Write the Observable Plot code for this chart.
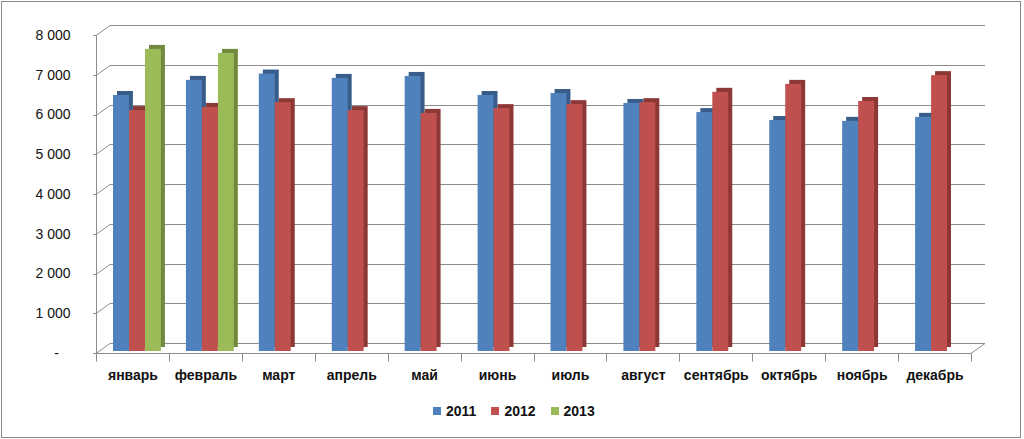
<!DOCTYPE html>
<html>
<head>
<meta charset="utf-8">
<script src="https://cdn.jsdelivr.net/npm/d3@7"></script>
<script src="https://cdn.jsdelivr.net/npm/@observablehq/plot@0.6"></script>
<style>
  html, body { margin: 0; padding: 0; background: #fff; }
  body { width: 1024px; height: 439px; position: relative; overflow: hidden; font-family: "Liberation Sans", Arial, sans-serif; }
  #border { position: absolute; left: 1px; top: 1px; width: 1020px; height: 437px; box-sizing: border-box; border: 1px solid #8a8a8a; }
  #chart { position: absolute; left: 0; top: 0; }
  #legend { position: absolute; left: 433px; top: 403px; display: flex; align-items: center; font-weight: bold; font-size: 14px; color: #111; }
  #legend .item { display: flex; align-items: center; margin-right: 15px; }
  #legend .sw { width: 8px; height: 8px; margin-right: 5px; }
</style>
</head>
<body>
<div id="border"></div>
<div id="chart"></div>
<div id="legend"></div>
<script>
const months = ["январь","февраль","март","апрель","май","июнь","июль","август","сентябрь","октябрь","ноябрь","декабрь"];
const series = ["2011","2012","2013"];
const values2011 = [6440, 6820, 6980, 6870, 6920, 6440, 6490, 6240, 6010, 5810, 5790, 5890];
const values2012 = [6060, 6140, 6260, 6060, 5990, 6110, 6210, 6260, 6520, 6720, 6290, 6940];
const values2013 = [7600, 7500];
const yTicks = [0, 1000, 2000, 3000, 4000, 5000, 6000, 7000, 8000];
const colors = ["#4F81BD", "#C0504D", "#9BBB59"];
const darkColors = ["#385D8A", "#8C3836", "#71893F"];

const rows = (vals) => vals.map((v, i) => ({month: months[i], value: v}));
const data = [rows(values2011), rows(values2012), rows(values2013)];

// bar placement inside each month band (pixels)
const insets = [[17, 40], [33, 24], [49, 8]];
const DEPTH_X = 14, DEPTH_Y = -10;   // 3D depth of the walls
const BAR_DX = 4, BAR_DY = -4;       // 3D depth of the bars

function frame(index, scales, values, dimensions) {
  const x = scales.x, y = scales.y;
  const x0 = dimensions.marginLeft;
  const x1 = dimensions.width - dimensions.marginRight;
  const y0 = y(0);
  const g = d3.create("svg:g").attr("fill", "none").attr("stroke", "#8c8c8c").attr("stroke-width", 1);
  const line = (ax, ay, bx, by) => g.append("line").attr("x1", ax).attr("y1", ay).attr("x2", bx).attr("y2", by);
  for (const v of yTicks) {
    const yy = Math.round(y(v)) + 0.5;
    line(x0 + DEPTH_X, yy + DEPTH_Y, x1 + DEPTH_X, yy + DEPTH_Y);
    line(x0, yy, x0 + DEPTH_X, yy + DEPTH_Y);
    line(x0 - 3, yy, x0, yy);
  }
  const yb = Math.round(y0) + 0.5;
  line(x0, yb, x1, yb);
  line(x1, yb, x1 + DEPTH_X, yb + DEPTH_Y);
  line(x0 + 0.5, Math.round(y(8000)) + 0.5, x0 + 0.5, yb);
  const bounds = months.map(m => x(m)).concat([x1]);
  for (const b of bounds) {
    const bx = Math.round(b) + 0.5;
    line(bx, yb, bx, yb + 8);
  }
  return g.node();
}

const barMarks = [];
data.forEach((d, i) => {
  barMarks.push(Plot.barY(d, {x: "month", y: "value", fill: darkColors[i],
    insetLeft: insets[i][0], insetRight: insets[i][1], dx: BAR_DX, dy: -2 + BAR_DY}));
  barMarks.push(Plot.barY(d, {x: "month", y: "value", fill: colors[i],
    insetLeft: insets[i][0], insetRight: insets[i][1], dy: -2}));
});

const fmt = (d) => d === 0 ? "-\u00a0\u00a0\u00a0" : d3.format(",")(d).replace(",", "\u00a0");

const plot = Plot.plot({
  width: 1024,
  height: 395,
  marginLeft: 96,
  marginRight: 53,
  marginTop: 35,
  marginBottom: 42,
  style: {fontFamily: "'Liberation Sans', Arial, sans-serif", background: "transparent", color: "#111"},
  x: {domain: months, padding: 0, round: false, label: null},
  y: {domain: [0, 8000], label: null},
  marks: [
    frame,
    ...barMarks,
    Plot.axisY(yTicks, {tickSize: 0, tickPadding: 26, tickFormat: fmt, fontSize: 14, fill: "#111", label: null}),
    Plot.axisX({tickSize: 0, tickPadding: 17, fontSize: 14, fontWeight: "bold", fill: "#111", label: null})
  ]
});
document.getElementById("chart").appendChild(plot);

const legend = document.getElementById("legend");
series.forEach((s, i) => {
  const item = document.createElement("div");
  item.className = "item";
  const sw = document.createElement("div");
  sw.className = "sw";
  sw.style.background = colors[i];
  const t = document.createElement("span");
  t.textContent = s;
  item.appendChild(sw);
  item.appendChild(t);
  legend.appendChild(item);
});
</script>
</body>
</html>
